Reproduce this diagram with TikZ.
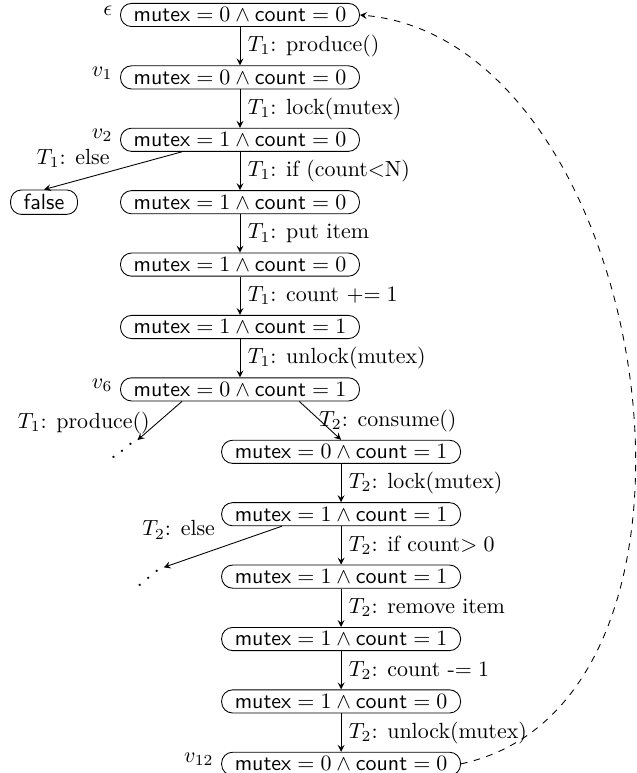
\documentclass[tikz,border=0pt]{standalone}
\usepackage{amsmath, amssymb}
\usepackage{tikz}
\usetikzlibrary{arrows.meta,calc}

\newcommand{\mcond}[2]{$\textsf{mutex} = #1 \wedge \textsf{count} = #2$}

\begin{document}
\begin{tikzpicture}[>=stealth,
    cond/.style={draw, rounded corners=5pt, inner xsep=6pt, inner ysep=2pt},
    vlabel/.style={label={[yshift=2pt]left:#1}},
    dotsnode/.style={inner sep=1pt, text height=8.3pt, text depth=0pt}]
    \useasboundingbox (-3.846,0.240) rectangle (6.346,-12.147);

    % producer column
    \node[cond, vlabel=$\epsilon$] (eps) at (0,0) {\mcond{0}{0}};
    \node[cond, vlabel=$v_1$] (v1) at (0,-1) {\mcond{0}{0}};
    \node[cond, vlabel=$v_2$] (v2) at (0,-2) {\mcond{1}{0}};
    \node[cond] (v3) at (0,-3) {\mcond{1}{0}};
    \node[cond] (v4) at (0,-4) {\mcond{1}{0}};
    \node[cond] (v5) at (0,-5) {\mcond{1}{1}};
    \node[cond, vlabel=$v_6$] (v6) at (0,-6) {\mcond{0}{1}};
    \node[cond] (nfalse) at (-3.14,-3) {\textsf{false}};
    \node[dotsnode] (dotsa) at (-1.89,-7) {\reflectbox{$\ddots$}};

    % consumer column
    \node[cond] (v7) at (1.62,-7) {\mcond{0}{1}};
    \node[cond] (v8) at (1.62,-8) {\mcond{1}{1}};
    \node[cond] (v9) at (1.62,-9) {\mcond{1}{1}};
    \node[cond] (v10) at (1.62,-10) {\mcond{1}{1}};
    \node[cond] (v11) at (1.62,-11) {\mcond{1}{0}};
    \node[cond, vlabel=$v_{12}$] (v12) at (1.62,-12) {\mcond{0}{0}};
    \node[dotsnode] (dotsb) at (-1.47,-9.04) {\reflectbox{$\ddots$}};

    \draw[->] (eps) -- node[right] {$T_1$: produce()} (v1);
    \draw[->] (v1) -- node[right] {$T_1$: lock(mutex)} (v2);
    \draw[->] (v2) -- node[right] {$T_1$: if (count$<$N)} (v3);
    \draw[->] ([xshift=-0.93cm]v2.south) -- node[pos=0.5, above left, xshift=2pt, yshift=-2pt] {$T_1$: else} (nfalse.north);
    \draw[->] (v3) -- node[right] {$T_1$: put item} (v4);
    \draw[->] (v4) -- node[right] {$T_1$: count $\mathrel{+}= 1$} (v5);
    \draw[->] (v5) -- node[right] {$T_1$: unlock(mutex)} (v6);

    \draw[->] ([xshift=-0.93cm]v6.south) -- node[pos=0.55, left] {$T_1$: produce()} (dotsa.north east);
    \draw[->] ([xshift=0.95cm]v6.south) -- node[right, xshift=-4pt] {$T_2$: consume()} (v7.north);

    \draw[->] (v7) -- node[right] {$T_2$: lock(mutex)} (v8);
    \draw[->] ([xshift=-0.95cm]v8.south) -- node[above left] {$T_2$: else} (dotsb.north east);
    \draw[->] (v8) -- node[right] {$T_2$: if count$> 0$} (v9);
    \draw[->] (v9) -- node[right] {$T_2$: remove item} (v10);
    \draw[->] (v10) -- node[right] {$T_2$: count -$= 1$} (v11);
    \draw[->] (v11) -- node[right] {$T_2$: unlock(mutex)} (v12);

    \draw[->, dashed] (v12.east) to[out=12, in=-5] (eps.east);
\end{tikzpicture}
\end{document}
